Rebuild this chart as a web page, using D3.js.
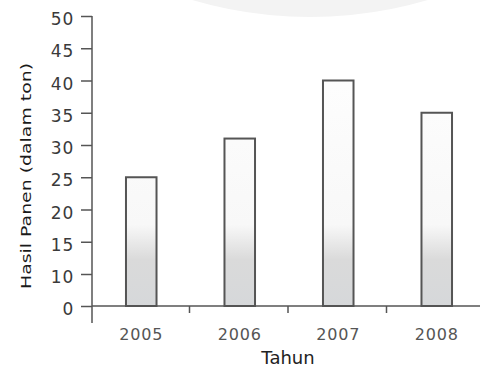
<!DOCTYPE html>
<html><head><meta charset="utf-8">
<script src="https://cdn.jsdelivr.net/npm/d3@7/dist/d3.min.js"></script>
<style>body{margin:0;background:#fff}svg{display:block}</style>
</head><body><svg id="c" width="480" height="369"></svg>
<script>
const years = ["2005","2006","2007","2008"];
const harvest = [25, 31, 40, 35];
const yTickLabels = [0, 10, 15, 20, 25, 30, 35, 40, 45, 50];

const FONT = "DejaVu Sans, Verdana, sans-serif";
const svg = d3.select("#c");
// faint background watermark
svg.append("circle").attr("cx",310).attr("cy",-400).attr("r",417).attr("fill","#f3f3f3");

// axis labels are spaced equally although 5 is missing: piecewise scale
const y = d3.scaleLinear().domain([0,10,50]).range([306,274,16]);
const x = d3.scaleBand().domain(years).range([92,486]).paddingInner(0.69).paddingOuter(0.345);

const defs = svg.append("defs");
const g = defs.append("linearGradient").attr("id","gr").attr("gradientUnits","userSpaceOnUse")
  .attr("x1",0).attr("x2",0).attr("y1",16).attr("y2",306);
g.append("stop").attr("offset","0").attr("stop-color","#f0f0f0");
g.append("stop").attr("offset","0.05").attr("stop-color","#ffffff");
g.append("stop").attr("offset","0.72").attr("stop-color","#f8f8f8");
g.append("stop").attr("offset","0.84").attr("stop-color","#dadada");
g.append("stop").attr("offset","1").attr("stop-color","#d6d8da");

svg.append("g").selectAll("rect").data(harvest).join("rect")
  .attr("x",(d,i)=>x(years[i])).attr("width",x.bandwidth())
  .attr("y",d=>y(d)).attr("height",d=>y(0)-y(d))
  .attr("fill","url(#gr)").attr("stroke","#555").attr("stroke-width",2);

// y axis
const ya = svg.append("g").attr("transform","translate(92,0)")
  .call(d3.axisLeft(y).tickValues(yTickLabels).tickSize(11).tickPadding(7).tickSizeOuter(0));
ya.attr("font-family",null).attr("font-size",null);
ya.select(".domain").remove();
ya.selectAll("line").attr("stroke","#555").attr("stroke-width",1.5);
ya.selectAll("text").attr("font-family",FONT).attr("font-size",17).attr("fill","#3a3a3a")
  .attr("dy","0.5em").attr("letter-spacing",0.8);
svg.append("line").attr("x1",92).attr("x2",92).attr("y1",y(50)).attr("y2",323).attr("stroke","#555").attr("stroke-width",1.5);

// x axis
svg.append("line").attr("x1",92).attr("x2",480).attr("y1",y(0)).attr("y2",y(0)).attr("stroke","#555").attr("stroke-width",1.5);
svg.append("g").selectAll("line").data(years.slice(1)).join("line")
  .attr("x1",d=>x(d)-x.step()*x.paddingInner()/2 - 1).attr("x2",d=>x(d)-x.step()*x.paddingInner()/2 - 1)
  .attr("y1",y(0)).attr("y2",y(0)+7).attr("stroke","#555").attr("stroke-width",1.5);
svg.append("g").selectAll("text").data(years).join("text")
  .attr("x",d=>x(d)+x.bandwidth()/2).attr("y",340).attr("text-anchor","middle")
  .attr("font-family",FONT).attr("font-size",16).attr("letter-spacing",0.8).attr("fill","#555").text(d=>d);

svg.append("text").attr("x",288).attr("y",364).attr("text-anchor","middle")
  .attr("font-family",FONT).attr("font-size",18).attr("fill","#222").text("Tahun");
svg.append("text").attr("transform","translate(31,176) rotate(-90)").attr("text-anchor","middle")
  .attr("font-family",FONT).attr("font-size",14).attr("fill","#1a1a1a")
  .attr("textLength",226).attr("lengthAdjust","spacingAndGlyphs")
  .text("Hasil Panen (dalam ton)");
</script></body></html>
